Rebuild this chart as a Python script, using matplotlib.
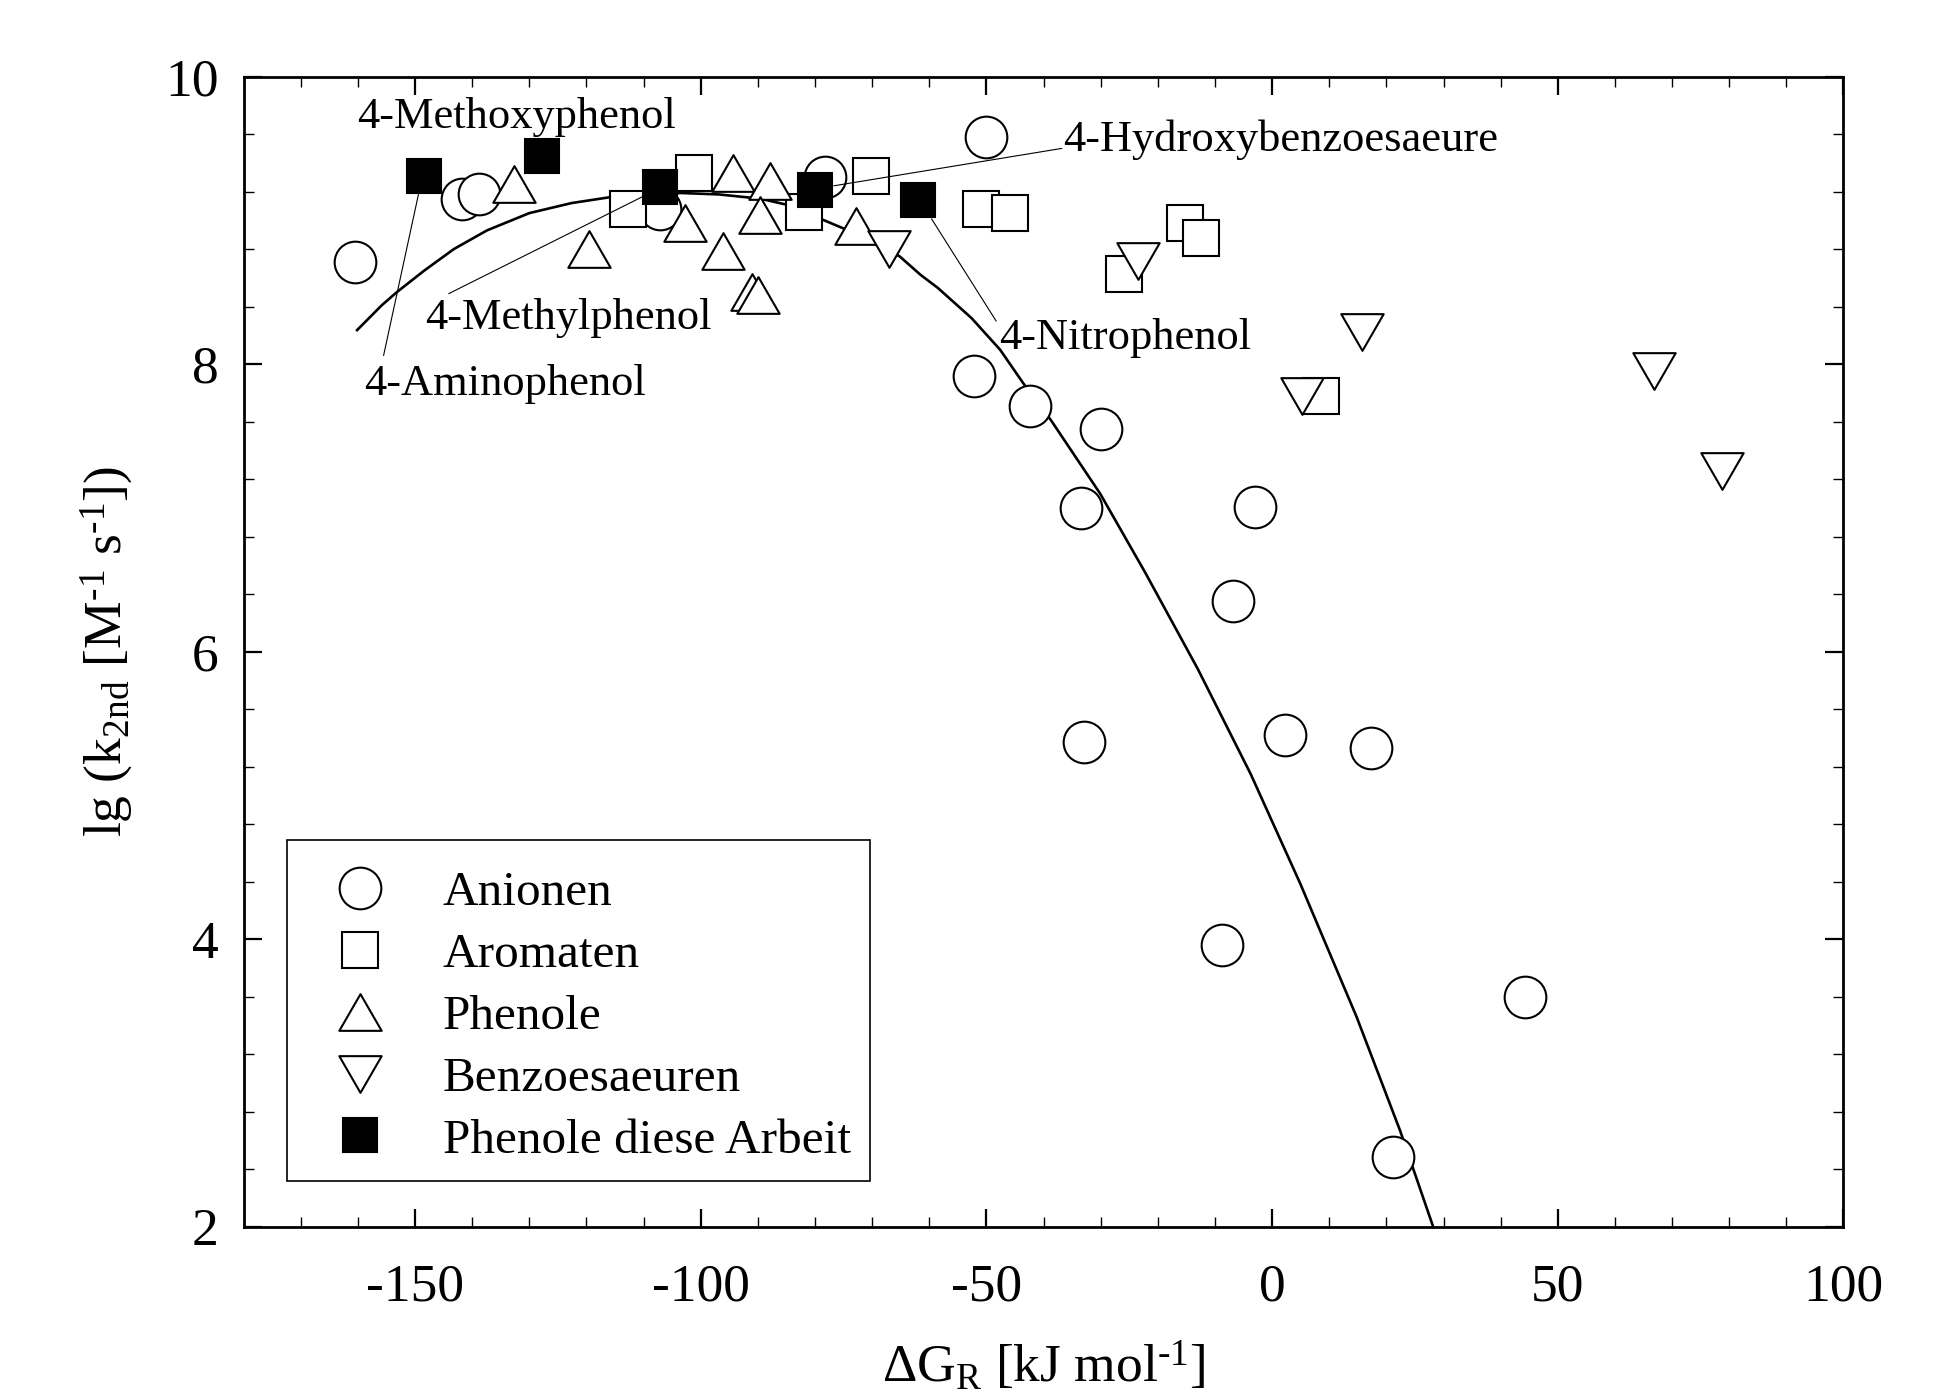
import matplotlib
matplotlib.use("Agg")
import matplotlib.pyplot as plt
from matplotlib.path import Path
from matplotlib.markers import MarkerStyle
from matplotlib.patches import Rectangle
from matplotlib.ticker import MultipleLocator

plt.rcParams['font.family'] = ['Liberation Serif', 'DejaVu Serif']
plt.rcParams['mathtext.fontset'] = 'custom'
plt.rcParams['mathtext.rm'] = 'Liberation Serif'
plt.rcParams['mathtext.default'] = 'regular'
plt.rcParams['axes.unicode_minus'] = False

# ---------------- data ----------------
anion_x = [-160.5, -141.8, -138.8, -107.2, -78.3, -50.0, -52.1, -42.4, -30.0, -33.5,
           -2.95, -6.8, -32.9, 2.2, 17.25, -8.7, 44.3, 21.2]
anion_y = [8.71, 9.15, 9.18, 9.08, 9.30, 9.58, 7.92, 7.71, 7.55, 7.00,
           7.01, 6.35, 5.37, 5.42, 5.33, 3.96, 3.60, 2.49]

arom_x = [-112.7, -101.2, -82.0, -70.2, -51.0, -45.9, -15.3, -12.5, -26.0, 8.6]
arom_y = [9.08, 9.33, 9.06, 9.31, 9.08, 9.05, 8.98, 8.88, 8.63, 7.78]

phen_x = [-132.6, -119.5, -102.7, -96.1, -94.3, -87.9, -89.6, -91.0, -90.0, -72.8]
phen_y = [9.25, 8.80, 8.98, 8.79, 9.33, 9.27, 9.04, 8.50, 8.48, 8.96]

benz_x = [-67.0, -23.4, 5.3, 15.75, 66.8, 78.8]
benz_y = [8.80, 8.72, 7.78, 8.22, 7.95, 7.26]

own_x = [-148.4, -127.7, -107.2, -80.0, -62.0]
own_y = [9.31, 9.45, 9.23, 9.21, 9.14]

fit_x = [-160.3, -155.8, -153.2, -148.4, -143.2, -137.4, -130.0, -122.6, -116.0, -103.5,
         -96.8, -89.5, -85.1, -78.4, -74.8, -65.2, -61.5, -58.5, -52.6, -47.6,
         -43.6, -38.7, -30.1, -22.2, -13.0, -3.75, 4.9, 14.8, 22.4, 28.2]
fit_y = [8.23, 8.41, 8.50, 8.65, 8.80, 8.93, 9.05, 9.12, 9.16, 9.19,
         9.18, 9.15, 9.11, 9.00, 8.94, 8.75, 8.62, 8.53, 8.32, 8.10,
         7.87, 7.61, 7.10, 6.55, 5.88, 5.15, 4.39, 3.46, 2.67, 2.00]

series_labels = ['Anionen', 'Aromaten', 'Phenole', 'Benzoesaeuren', 'Phenole diese Arbeit']

# annotations: label, text position, leader line start, leader line end
annot_labels = ['4-Methoxyphenol', '4-Aminophenol', '4-Methylphenol',
                '4-Hydroxybenzoesaeure', '4-Nitrophenol']
annot_text_xy = [(-160.2, 9.72), (-158.9, 7.86), (-148.3, 8.32), (-36.6, 9.56), (-47.8, 8.18)]
annot_line_from = [None, (-155.5, 8.06), (-144.1, 8.49), (-36.8, 9.50), (-48.3, 8.30)]
annot_line_to = [None, (-149.4, 9.18), (-109.9, 9.17), (-76.7, 9.24), (-59.6, 9.01)]

x_ticks = [-150, -100, -50, 0, 50, 100]
y_ticks = [2, 4, 6, 8, 10]

HY = '\u2010'  # hyphen used in the unit superscripts

# ---------------- figure ----------------
fig = plt.figure(figsize=(19.43, 13.93), dpi=100)
ax = fig.add_axes([0.12537, 0.11917, 0.82342, 0.82591])

tri_up = MarkerStyle(Path([(-1, -0.866), (1, -0.866), (0, 0.866), (-1, -0.866)],
                          [Path.MOVETO, Path.LINETO, Path.LINETO, Path.CLOSEPOLY]),
                     joinstyle='miter')
tri_dn = MarkerStyle(Path([(-1, 0.866), (1, 0.866), (0, -0.866), (-1, 0.866)],
                          [Path.MOVETO, Path.LINETO, Path.LINETO, Path.CLOSEPOLY]),
                     joinstyle='miter')
sq = MarkerStyle('s', joinstyle='miter')

ax.plot(fit_x, fit_y, color='black', lw=1.9, zorder=2, solid_capstyle='butt',
        solid_joinstyle='round')

mew = 1.5
ax.plot(anion_x, anion_y, ls='none', marker='o', ms=30.0, mfc='white', mec='black',
        mew=mew, zorder=3, label=series_labels[0])
ax.plot(arom_x, arom_y, ls='none', marker=sq, ms=26.0, mfc='white', mec='black',
        mew=mew, zorder=4, label=series_labels[1])
ax.plot(phen_x, phen_y, ls='none', marker=tri_up, ms=30.5, mfc='white', mec='black',
        mew=mew, zorder=5, label=series_labels[2])
ax.plot(benz_x, benz_y, ls='none', marker=tri_dn, ms=30.5, mfc='white', mec='black',
        mew=mew, zorder=6, label=series_labels[3])
ax.plot(own_x, own_y, ls='none', marker=sq, ms=24.0, mfc='black', mec='black',
        mew=mew, zorder=7, label=series_labels[4])

for lab, txy, p0, p1 in zip(annot_labels, annot_text_xy, annot_line_from, annot_line_to):
    ax.text(txy[0], txy[1], lab, fontsize=32, ha='left', va='center', zorder=8)
    if p0 is not None:
        ax.annotate('', xy=p1, xytext=p0,
                    arrowprops=dict(arrowstyle='-', lw=0.8, color='black',
                                    shrinkA=0, shrinkB=0), zorder=8)

ax.set_xlim(-180, 100)
ax.set_ylim(2, 10)
ax.set_xticks(x_ticks)
ax.set_yticks(y_ticks)
ax.xaxis.set_minor_locator(MultipleLocator(10))
ax.yaxis.set_minor_locator(MultipleLocator(0.4))

for s in ax.spines.values():
    s.set_linewidth(2.0)
ax.tick_params(which='both', direction='in', top=True, right=True)
ax.tick_params(which='major', length=13, width=1.6, labelsize=38.5)
ax.tick_params(which='minor', length=7.5, width=1.0)
ax.tick_params(axis='x', which='major', pad=26.5)
ax.tick_params(axis='y', which='major', pad=18)

ax.set_xlabel('ΔG$_R$ [kJ mol$^{' + HY + '1}$]', fontsize=38.5)
ax.set_ylabel('lg (k$_{2nd}$ [M$^{' + HY + '1}$ s$^{' + HY + '1}$])', fontsize=38.5)
ax.xaxis.set_label_coords(0.5, -0.098)
ax.yaxis.set_label_coords(-0.068, 0.5)

# legend frame (drawn separately so the inner padding can be asymmetric)
frame = Rectangle((0.02744, 0.040), 0.3641, 0.2964, transform=ax.transAxes,
                  facecolor='white', edgecolor='black', lw=1.2, zorder=9)
ax.add_patch(frame)
leg = ax.legend(loc='upper left', bbox_to_anchor=(0.02744, 0.3309), borderaxespad=0,
                fontsize=35.5, frameon=False, handlelength=1.94, handletextpad=0.705,
                labelspacing=0.35, borderpad=0.5, numpoints=1)
leg.set_zorder(10)

fig.savefig('out.png', dpi=100)
